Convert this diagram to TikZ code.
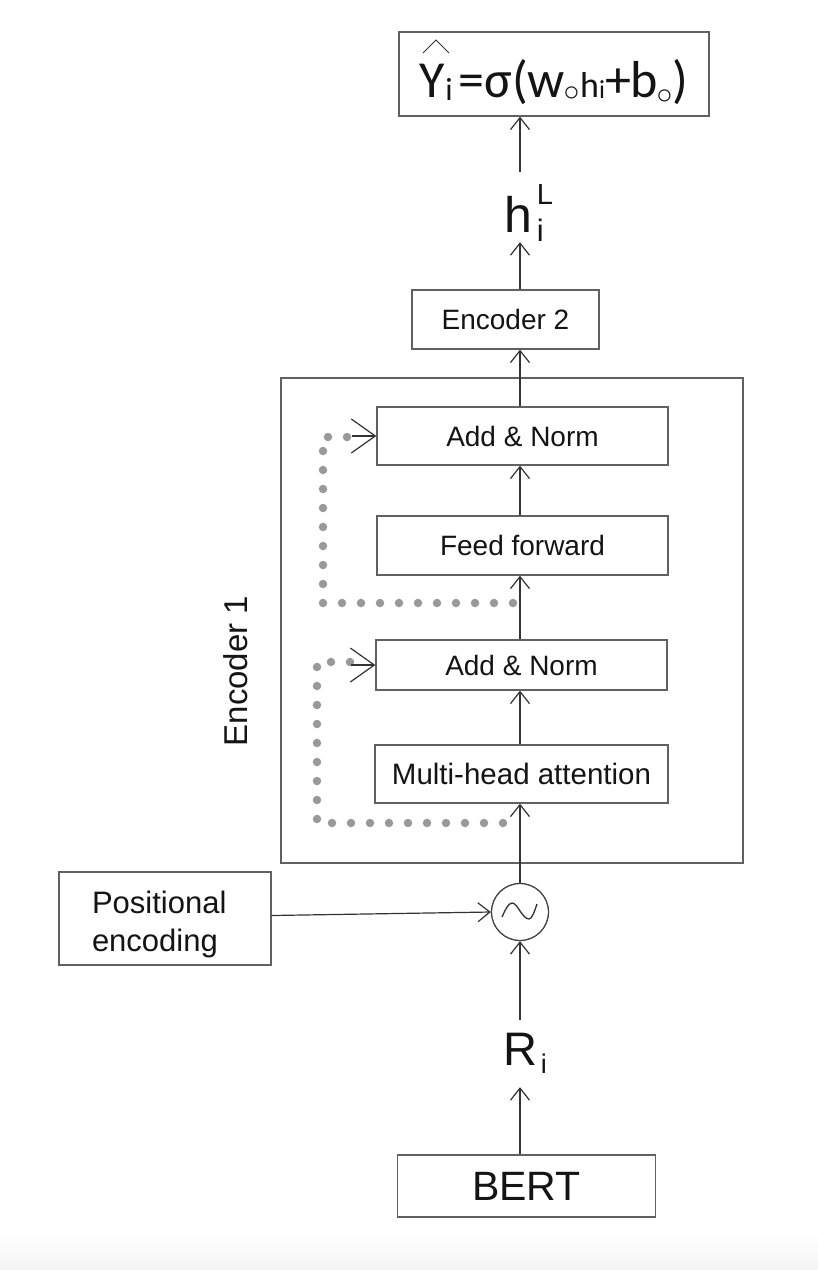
\documentclass[tikz,border=0pt]{standalone}
\usepackage{fontspec}
\setmainfont{Liberation Sans}
\newfontfamily\fmla{Carlito}
\newfontfamily\dvs{DejaVu Sans}
\usetikzlibrary{arrows.meta}
\newcommand\fsz[1]{\fontsize{#1}{#1}\selectfont}
\begin{document}
\begin{tikzpicture}[x=1pt,y=-1pt,
  box/.style={draw=black!62, line width=1.3pt, inner sep=0pt, text=black!92},
  capbox/.style={box, font=\fsz{28}, text height=20pt, text depth=0pt},
  arr/.style={draw=black!80, line width=1.2pt, -{Straight Barb[length=12pt,width=19pt,line width=1.2pt]}},
  bigarr/.style={draw=black!80, line width=1.2pt, -{Straight Barb[length=24pt,width=34pt,line width=1.2pt]}},
  dots/.style={draw=black!40, line width=8.5pt, line cap=round, dash pattern=on 0pt off 19pt},
  lbl/.style={inner sep=0pt, text=black!92}]
\useasboundingbox (0,0) rectangle (818,1270);
\fill[white] (0,0) rectangle (818,1270);
\shade[top color=white,bottom color=black!4] (0,1232) rectangle (818,1270);

\coordinate (sp) at (520,0);

% output formula
\node[box, minimum width=310, minimum height=84, text height=50pt, text depth=4pt] (out) at (554,74)
  {\fmla\fsz{52}Y\raisebox{-3pt}{\fsz{32}i}\hspace{6pt}=σ(w\makebox[14pt]{\raisebox{-11pt}{\dvs\fsz{42}◦}}\hspace{1pt}{\fsz{36}h}\raisebox{-1pt}{\fsz{26}i}+b\makebox[14pt]{\raisebox{-14pt}{\dvs\fsz{42}◦}})};
\draw[draw=black!80, line width=0.9pt] (423,53) -- (436,40) -- (449,53);

% h_i^L
\node[lbl, anchor=base, text height=60pt, text depth=10pt] (h) at (524,232)
  {{\fsz{50}h}\hspace{5pt}\rlap{\raisebox{28pt}{\fsz{29}L}}\raisebox{-9pt}{\fsz{31}i}};

% encoder 2
\node[capbox, minimum width=187, minimum height=59] (enc2) at (505.5,319.5) {Encoder 2};

% encoder 1
\node[box, minimum width=462, minimum height=485] (enc1) at (512,620.5) {};
\node[lbl, rotate=90, font=\fsz{33}, text height=24pt, text depth=0pt] (e1l) at (235,671) {Encoder 1};

\node[capbox, minimum width=291, minimum height=58] (an1) at (522.5,436) {Add \& Norm};
\node[capbox, minimum width=291, minimum height=59] (ff) at (522.5,545.5) {Feed forward};
\node[capbox, minimum width=291, minimum height=50] (an2) at (521.5,665) {Add \& Norm};
\node[capbox, minimum width=293, minimum height=58, font=\fsz{29.5}] (mha) at (521.5,774) {Multi-head attention};

% mixer
\node[draw=black!75, line width=1.3pt, circle, minimum size=57, inner sep=0pt] (mix) at (520,912) {};
\draw[draw=black!80, line width=1.3pt] (502,917) sin (512,903) cos (520,911) sin (529,919) cos (537,904);

% positional encoding
\node[box, text width=146pt, inner xsep=33pt, minimum height=93, align=left, font={\fontsize{31}{38}\selectfont}] (pos) at (165,918.5)
  {\rule{0pt}{33.6pt}Positional\\encoding};

% R_i
\node[lbl, anchor=base, text height=45pt, text depth=22pt] (R) at (525,1065)
  {{\fsz{47}R}\hspace{4pt}\raisebox{-8pt}{\fsz{27}i}};

% BERT
\node[box, font=\fsz{41}, text height=29.5pt, text depth=0pt, minimum width=258, minimum height=62] (bert) at (526.5,1186) {BERT};

% residual dotted loops
\draw[dots] (513,603) -- (323,603) -- (323,437) -- (362,437);
\draw[bigarr] ([xshift=-24pt]an1.west) -- (an1.west);
\draw[dots] (503,823) -- (317,823) -- (317,662) -- (362,662);
\draw[bigarr] ([xshift=-24pt]an2.west) -- (an2.west);

% main flow
\draw[arr] (bert.north -| sp) -- (R.south -| sp);
\draw[arr] (R.north -| mix) -- (mix.south);
\draw[arr] ([yshift=3pt]pos.east) -- (mix.west);
\draw[arr] (mix.north) -- (mha.south -| mix);
\draw[arr] (mha.north -| sp) -- (an2.south -| sp);
\draw[arr] (an2.north -| sp) -- (ff.south -| sp);
\draw[arr] (ff.north -| sp) -- (an1.south -| sp);
\draw[arr] (an1.north -| sp) -- (enc2.south -| sp);
\draw[arr] (enc2.north -| sp) -- (h.south -| sp);
\draw[arr] (h.north -| sp) -- (out.south -| sp);
\end{tikzpicture}
\end{document}
